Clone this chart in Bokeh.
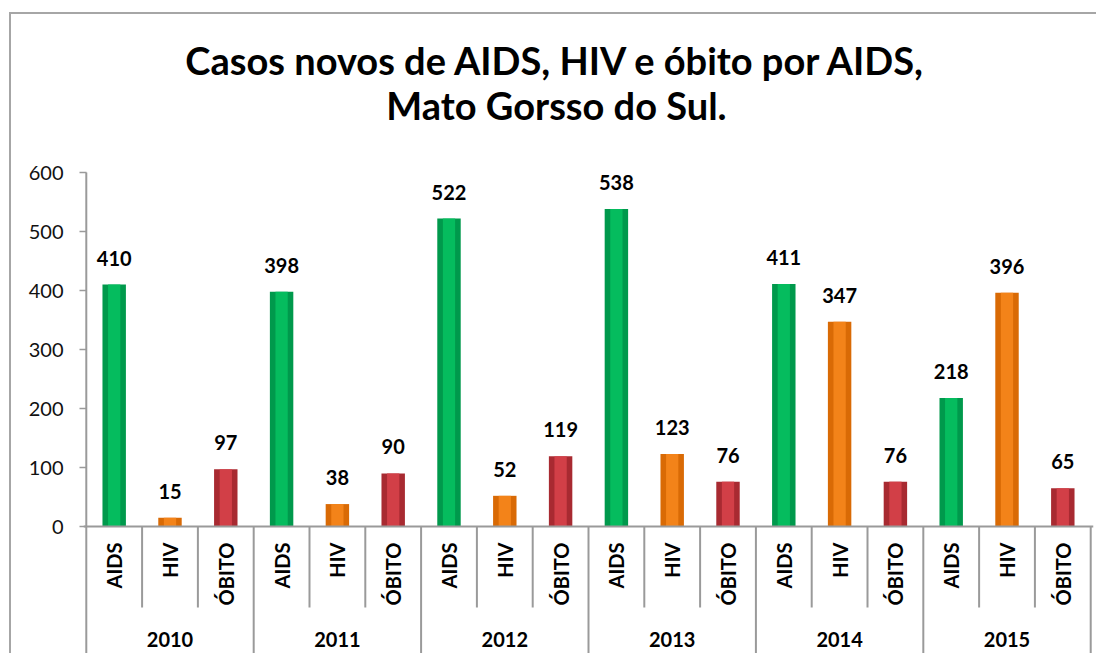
from bokeh.plotting import figure
from bokeh.models import FactorRange, Range1d, FixedTicker, ColumnDataSource, Span
from bokeh.core.properties import value
from bokeh.embed import file_html
from bokeh.resources import INLINE
import math

# ---- data ----
years = ["2010", "2011", "2012", "2013", "2014", "2015"]
subs = ["AIDS", "HIV", "ÓBITO"]
aids = [410, 398, 522, 538, 411, 218]
hiv = [15, 38, 52, 123, 347, 396]
obito = [97, 90, 119, 76, 76, 65]
y_ticks = [0, 100, 200, 300, 400, 500, 600]
titles = ["Casos novos de AIDS, HIV e óbito por AIDS,", "Mato Gorsso do Sul."]

# ---- styles / layout ----
FONT = "Lato"
edge_colors = {"AIDS": "#00994c", "HIV": "#d96a05", "ÓBITO": "#a82a31"}
mid_colors = {"AIDS": "#06c060", "HIV": "#f5861c", "ÓBITO": "#d6414a"}
GRID = "#9a9a9a"

PX_PER_UNIT = 0.59
CANVAS_W, CANVAS_H = 1087, 641
CANVAS_TOP = 14          # page y of canvas top (margin 12 + border 2)
AXIS_TOP_PX = 172        # page y of the 600 tick
Y_END = y_ticks[-1] + (AXIS_TOP_PX - CANVAS_TOP) / PX_PER_UNIT
Y_START = Y_END - CANVAS_H / PX_PER_UNIT

factors = [(y, s) for y in years for s in subs]
vals = [v for trio in zip(aids, hiv, obito) for v in trio]
src = ColumnDataSource(dict(
    x=factors, y=vals, label=[str(v) for v in vals],
    edge=[edge_colors[f[1]] for f in factors],
    mid=[mid_colors[f[1]] for f in factors],
))

x_range = FactorRange(*factors, group_padding=0, factor_padding=0,
                      range_padding=0.05, range_padding_units="absolute")

p = figure(width=CANVAS_W, height=CANVAS_H, x_range=x_range,
           y_range=Range1d(Y_START, Y_END), output_backend="svg",
           toolbar_location=None, min_border_left=72, min_border_right=5,
           min_border_top=0, min_border_bottom=0,
           margin=(12, 0, 0, 9),
           styles={"border-left": "2px solid #a6a6a6",
                   "border-top": "2px solid #a6a6a6"})
p.outline_line_color = None
p.xgrid.visible = False
p.ygrid.visible = False
p.xaxis.visible = False

ax = p.yaxis[0]
ax.ticker = FixedTicker(ticks=y_ticks)
ax.axis_line_color = None
ax.major_tick_out = 4
ax.major_tick_in = 3
ax.major_tick_line_color = GRID
ax.major_tick_line_width = 1.5
ax.minor_tick_line_color = None
ax.major_label_text_font = FONT
ax.major_label_text_font_size = "20px"
ax.major_label_text_color = "#111111"
ax.major_label_standoff = 16

n = len(factors)
nsub = len(subs)

# title (two centred lines)
p.text(x=[n / 2] * 2, y=[y_ticks[-1]] * 2, text=titles,
       x_offset=-32, y_offset=[-113, -68],
       text_align="center", text_baseline="alphabetic",
       text_font=value(FONT), text_font_size="38px",
       text_font_style="bold", text_color="black")

# bars
p.vbar(x="x", top="y", bottom=0, width=0.42, source=src,
       fill_color="edge", line_color=None)
p.vbar(x="x", top="y", bottom=0, width=0.22, source=src,
       fill_color="mid", line_color=None, fill_alpha=0.9)

# value labels
p.text(x="x", y="y", text="label", source=src, y_offset=-19,
       text_align="center", text_baseline="bottom",
       text_font=value(FONT), text_font_size="20px",
       text_font_style="bold", text_color="black")

# axis lines
p.add_layout(Span(location=0, dimension="width", line_color=GRID, line_width=2))
sub_bounds = [i for i in range(1, n) if i % nsub != 0]
year_bounds = [i for i in range(0, n + 1) if i % nsub == 0]
SUB_SEP_PX = 81
p.segment(x0=sub_bounds, x1=sub_bounds, y0=0,
          y1=-SUB_SEP_PX / PX_PER_UNIT, line_color=GRID, line_width=2)
p.segment(x0=year_bounds, x1=year_bounds, y0=0, y1=Y_START,
          line_color=GRID, line_width=2)
p.segment(x0=[0], x1=[0], y0=[y_ticks[-1]], y1=[0],
          line_color=GRID, line_width=2)

# category labels
p.text(x=factors, y=0, text=[f[1] for f in factors], angle=math.pi / 2,
       y_offset=16, text_align="right", text_baseline="middle",
       text_font=value(FONT), text_font_size="20px",
       text_font_style="bold", text_color="black")
p.text(x=years, y=0, text=years, y_offset=113,
       text_align="center", text_baseline="middle",
       text_font=value(FONT), text_font_size="20px",
       text_font_style="bold", text_color="black")

open("out.html", "w").write(file_html(p, INLINE))
